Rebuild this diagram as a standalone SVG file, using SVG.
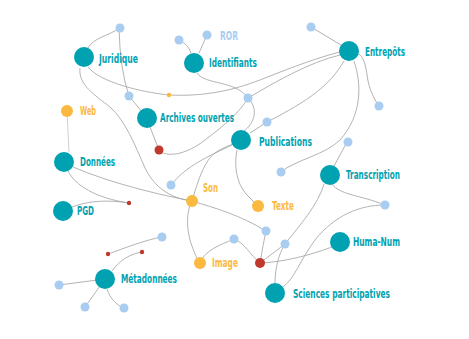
<svg xmlns="http://www.w3.org/2000/svg" width="469" height="339" viewBox="0 0 469 339">
<style>
.c{fill:none;stroke:#a5a5a5;stroke-width:0.85}
.t{fill:#00a2b1}
.o{fill:#fbb940}
.b{fill:#a9cdf0}
.r{fill:#c1392d}
text{font-family:"Liberation Sans Narrow","DejaVu Sans Condensed","Roboto",sans-serif;font-weight:bold;font-size:11.5px}
.lt{fill:#00a2b1}
.lo{fill:#fbb940}
.lb{fill:#a9cdf0}
</style>
<rect width="469" height="339" fill="#fff"/>
<g id="connectors">
<path class="c" d="M88,48 C93,38 108,36 120,28"/>
<path class="c" d="M119,28 Q120,70 129,96"/>
<path class="c" d="M129,96 L147,118"/>
<path class="c" d="M150,127 L159,150"/>
<path class="c" d="M159,150 C166,158 186,155 205,140 C225,125 240,112 248,98"/>
<path class="c" d="M248,98 C275,82 310,62 340,55"/>
<path class="c" d="M197,73 C205,85 235,80 248,98 C258,108 256,122 243,132"/>
<path class="c" d="M88,67 C100,82 140,92 169,95 C210,97 240,88 265,78 C295,66 320,57 340,52"/>
<path class="c" d="M311,27 L341,45"/>
<path class="c" d="M359,54 C367,60 366,75 369,85 C372,95 375,100 379,106"/>
<path class="c" d="M344,61 C330,85 310,100 267,122 L250,133"/>
<path class="c" d="M354,61 C362,85 362,115 340,140 C325,155 295,160 281,172"/>
<path class="c" d="M191,53 C189,47 185,43 179,40"/>
<path class="c" d="M199,53 L207,35"/>
<path class="c" d="M80,68 C78,85 95,95 110,107 C125,120 135,145 145,168 C155,188 170,198 192,201"/>
<path class="c" d="M67,111 L69,152" style="stroke:#c8c8c8"/>
<path class="c" d="M73,167 C110,183 160,195 192,201"/>
<path class="c" d="M68,171 C75,185 95,198 129,203"/>
<path class="c" d="M72,207 C90,200 110,200 129,203"/>
<path class="c" d="M171,185 C185,168 200,160 232,145"/>
<path class="c" d="M192,201 C198,180 205,160 215,153 C222,148 228,146 233,144"/>
<path class="c" d="M237,150 C234,165 236,182 246,194 L258,206"/>
<path class="c" d="M192,201 C215,208 240,215 266,231"/>
<path class="c" d="M192,201 C187,210 186,225 190,240 C193,250 196,256 199,263"/>
<path class="c" d="M200,263 C205,250 220,245 234,239"/>
<path class="c" d="M234,239 C245,243 250,255 260,263"/>
<path class="c" d="M266,231 C263,245 262,252 260,263"/>
<path class="c" d="M260,263 L285,244"/>
<path class="c" d="M260,263 C285,262 310,255 332,247"/>
<path class="c" d="M285,244 C278,255 275,270 275,283"/>
<path class="c" d="M324,184 C318,205 300,225 285,244"/>
<path class="c" d="M332,184 C340,195 360,195 385,205"/>
<path class="c" d="M385,205 C360,205 335,215 315,240 C300,260 295,278 283,287"/>
<path class="c" d="M334,166 L347,142"/>
<path class="c" d="M105,279 L59,285"/>
<path class="c" d="M105,279 L85,307"/>
<path class="c" d="M107,289 C110,298 116,305 124,308"/>
<path class="c" d="M112,271 C120,260 130,254 142,252"/>
<path class="c" d="M108,254 C125,248 145,240 162,237"/>
</g>
<g id="n-juridique"><circle class="t" cx="84" cy="57" r="10"/><text class="lt" x="99" y="63" textLength="39" lengthAdjust="spacingAndGlyphs">Juridique</text></g>
<g id="n-identifiants"><circle class="t" cx="194" cy="63" r="10"/><text class="lt" x="209" y="67" textLength="48" lengthAdjust="spacingAndGlyphs">Identifiants</text></g>
<g id="n-ror"><circle class="b" cx="207" cy="35" r="4.5"/><text class="lb" x="220" y="40" textLength="18" lengthAdjust="spacingAndGlyphs">ROR</text></g>
<g id="n-entrepots"><circle class="t" cx="349" cy="51" r="10"/><text class="lt" x="365" y="56" textLength="40" lengthAdjust="spacingAndGlyphs">Entrepôts</text></g>
<g id="n-archives"><circle class="t" cx="147" cy="118" r="10"/><text class="lt" x="160" y="122" textLength="74" lengthAdjust="spacingAndGlyphs">Archives ouvertes</text></g>
<g id="n-publications"><circle class="t" cx="241" cy="140" r="10"/><text class="lt" x="259" y="146" textLength="53" lengthAdjust="spacingAndGlyphs">Publications</text></g>
<g id="n-web"><circle class="o" cx="67" cy="111" r="6"/><text class="lo" x="80" y="115" textLength="16" lengthAdjust="spacingAndGlyphs">Web</text></g>
<g id="n-donnees"><circle class="t" cx="64" cy="162" r="10"/><text class="lt" x="80" y="166" textLength="35" lengthAdjust="spacingAndGlyphs">Données</text></g>
<g id="n-pgd"><circle class="t" cx="63" cy="211" r="10"/><text class="lt" x="77" y="215" textLength="17" lengthAdjust="spacingAndGlyphs">PGD</text></g>
<g id="n-son"><circle class="o" cx="192" cy="201" r="6"/><text class="lo" x="203" y="192" textLength="15" lengthAdjust="spacingAndGlyphs">Son</text></g>
<g id="n-texte"><circle class="o" cx="258" cy="206" r="6"/><text class="lo" x="272" y="210" textLength="22" lengthAdjust="spacingAndGlyphs">Texte</text></g>
<g id="n-image"><circle class="o" cx="200" cy="263" r="6"/><text class="lo" x="212" y="267" textLength="26" lengthAdjust="spacingAndGlyphs">Image</text></g>
<g id="n-metadonnees"><circle class="t" cx="105" cy="279" r="10"/><text class="lt" x="121" y="283" textLength="56" lengthAdjust="spacingAndGlyphs">Métadonnées</text></g>
<g id="n-transcription"><circle class="t" cx="330" cy="175" r="10"/><text class="lt" x="346" y="179" textLength="54" lengthAdjust="spacingAndGlyphs">Transcription</text></g>
<g id="n-humanum"><circle class="t" cx="340" cy="242" r="10"/><text class="lt" x="353" y="246" textLength="47" lengthAdjust="spacingAndGlyphs">Huma-Num</text></g>
<g id="n-scipart"><circle class="t" cx="275" cy="293" r="10"/><text class="lt" x="293" y="298" textLength="97" lengthAdjust="spacingAndGlyphs">Sciences participatives</text></g>
<g id="n-o-small"><circle class="o" cx="169" cy="95" r="2.2"/></g>
<g id="n-r1"><circle class="r" cx="159" cy="150" r="4.5"/></g>
<g id="n-r2"><circle class="r" cx="260" cy="263" r="5"/></g>
<g id="n-r3"><circle class="r" cx="129" cy="203" r="2.2"/></g>
<g id="n-r4"><circle class="r" cx="108" cy="254" r="2.2"/></g>
<g id="n-r5"><circle class="r" cx="142" cy="252" r="2.2"/></g>
<g id="n-b1"><circle class="b" cx="120" cy="28" r="4.5"/></g>
<g id="n-b2"><circle class="b" cx="179" cy="40" r="4.5"/></g>
<g id="n-b3"><circle class="b" cx="311" cy="27" r="4.5"/></g>
<g id="n-b4"><circle class="b" cx="129" cy="96" r="4.5"/></g>
<g id="n-b5"><circle class="b" cx="248" cy="98" r="4.5"/></g>
<g id="n-b6"><circle class="b" cx="267" cy="122" r="4.5"/></g>
<g id="n-b7"><circle class="b" cx="379" cy="106" r="4.5"/></g>
<g id="n-b8"><circle class="b" cx="348" cy="142" r="4.5"/></g>
<g id="n-b9"><circle class="b" cx="281" cy="172" r="4.5"/></g>
<g id="n-b10"><circle class="b" cx="171" cy="185" r="4.5"/></g>
<g id="n-b11"><circle class="b" cx="385" cy="205" r="4.5"/></g>
<g id="n-b12"><circle class="b" cx="266" cy="231" r="4.5"/></g>
<g id="n-b13"><circle class="b" cx="285" cy="244" r="4.5"/></g>
<g id="n-b14"><circle class="b" cx="234" cy="239" r="4.5"/></g>
<g id="n-b15"><circle class="b" cx="162" cy="237" r="4.5"/></g>
<g id="n-b16"><circle class="b" cx="59" cy="285" r="4.5"/></g>
<g id="n-b17"><circle class="b" cx="85" cy="307" r="4.5"/></g>
<g id="n-b18"><circle class="b" cx="124" cy="308" r="4.5"/></g>
</svg>
